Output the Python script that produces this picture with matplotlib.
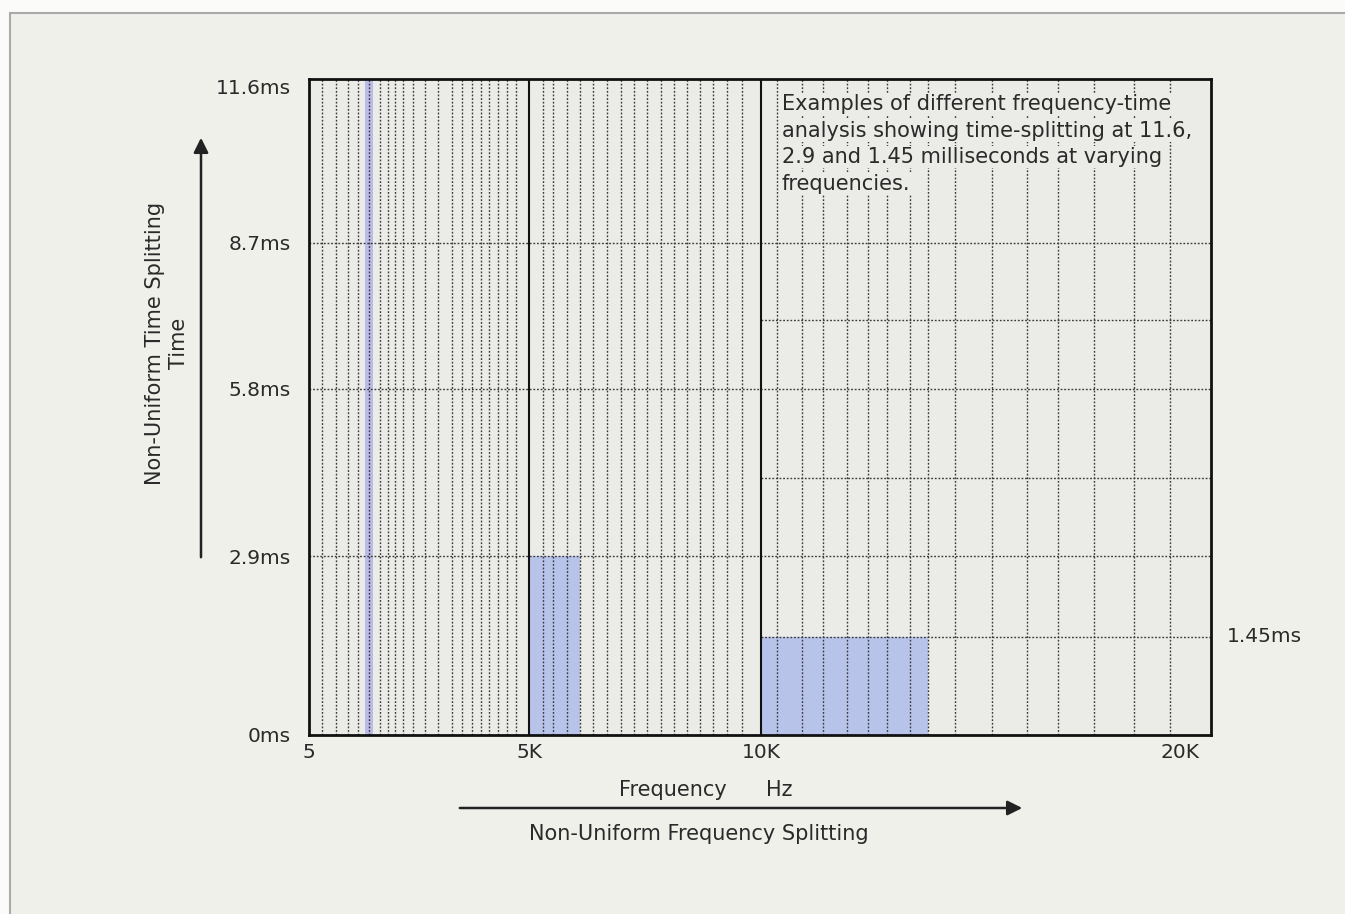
import numpy as np
import matplotlib
matplotlib.use('Agg')
import matplotlib.pyplot as plt
from matplotlib.patches import Rectangle, FancyArrowPatch

# ---------------- data ----------------
freq_tick_values = [5, 5000, 10000, 20000]
freq_tick_labels = ['5', '5K', '10K', '20K']
time_tick_values = [0, 2.9, 5.8, 8.7, 11.6]
time_tick_labels = ['0ms', '2.9ms', '5.8ms', '8.7ms', '11.6ms']
freq_min = 5
freq_max = 20740
time_max = 11.6

# frequency split lines (Hz)
low_band_splits = [300, 620, 890, 1120, 1370, 1620, 1800, 1960, 2140, 2370,
                   2640, 2930, 3250, 3480, 3710, 3910, 4090, 4300, 4500, 4700]
mid_band_splits = [5300, 5520, 5820, 6100, 6380, 6680, 6980, 7260, 7540,
                   7850, 8130, 8400, 8690, 8970, 9270, 9590]
high_band_splits = [10380, 10980, 11480, 12050, 12550, 13010, 13560, 13990,
                    14630, 15510, 16350, 17090, 17950, 18900, 19760]
band_edges = [5000, 10000]

# time split lines (ms)
full_width_time_splits = [2.9, 5.8, 8.7]
high_band_time_splits = [1.45, 4.35, 7.25]
right_label_time = 1.45

# highlighted cells
cell_freq_start = [1280, 5000, 10000]
cell_freq_end = [1460, 6100, 13990]
cell_time = [11.6, 2.9, 1.45]
cell_colors = ['#bbbbe9', '#b8c3e9', '#b8c3e9']

# non-uniform drawing scale knots
freq_knots = [5, 5000, 10000, 20740]
freq_pos = [0, 220, 452, 902]
time_knots = [0, 1.45, 2.9, 4.35, 5.8, 7.25, 8.7, 11.6]
time_pos = [0, 98, 179, 257, 346, 415, 492, 656]

note_lines = ["Examples of different frequency-time",
              "analysis showing time-splitting at 11.6,",
              "2.9 and 1.45 milliseconds at varying",
              "frequencies."]

# ---------------- figure ----------------
W, H = 1345, 914
plt.rcParams['font.family'] = ['DejaVu Sans']
fig = plt.figure(figsize=(W / 100, H / 100), dpi=100, facecolor='#fbfbfa')

# page panel
fig.add_artist(Rectangle((10 / W, -0.01), 1.0, (H - 13) / H + 0.01,
                         transform=fig.transFigure, facecolor='#f0f0eb',
                         edgecolor='#a9a9a9', lw=1.5, zorder=0))

TXT = '#2a2a2a'
AX_BG = '#ebebe8'

ax = fig.add_axes([309 / W, (H - 735) / H, 902 / W, 656 / H])
ax.set_facecolor(AX_BG)


def fx(v):
    return np.interp(np.asarray(v, dtype=float), freq_knots, freq_pos)


def fx_inv(p):
    return np.interp(np.asarray(p, dtype=float), freq_pos, freq_knots)


def fy(v):
    return np.interp(np.asarray(v, dtype=float), time_knots, time_pos)


def fy_inv(p):
    return np.interp(np.asarray(p, dtype=float), time_pos, time_knots)


ax.set_xscale('function', functions=(fx, fx_inv))
ax.set_yscale('function', functions=(fy, fy_inv))
ax.set_xlim(freq_min, freq_max)
ax.set_ylim(0, time_max)

# highlighted cells
for fs, fe, t, c in zip(cell_freq_start, cell_freq_end, cell_time, cell_colors):
    ax.bar(fs, t, width=fe - fs, align='edge', color=c, edgecolor='none', zorder=1)

dot = (0, (1.3, 1.3))
ax.vlines(low_band_splits + mid_band_splits + high_band_splits, 0, time_max,
          colors='#3a3a3a', linestyles=dot, lw=1.0, zorder=2)
ax.hlines(full_width_time_splits, freq_min, freq_max,
          colors='#3a3a3a', linestyles=dot, lw=1.0, zorder=2)
ax.hlines(high_band_time_splits, band_edges[1], freq_max,
          colors='#3a3a3a', linestyles=dot, lw=1.0, zorder=2)
ax.vlines(band_edges, 0, time_max, colors='#111111', lw=1.5, zorder=3)

for s in ax.spines.values():
    s.set_linewidth(2.0)
    s.set_color('#111111')
    s.set_zorder(4)

ax.set_xticks(freq_tick_values)
ax.set_xticklabels(freq_tick_labels)
ax.set_yticks(time_tick_values)
ax.set_yticklabels(time_tick_labels)
ax.minorticks_off()
ax.tick_params(axis='x', length=0, pad=6, labelsize=14.5, labelcolor=TXT)
ax.tick_params(axis='y', length=0, pad=13, labelsize=14.5, labelcolor=TXT)
# the top label sits just under the frame line in the original
ax.yaxis.get_major_ticks()[-1].label1.set_verticalalignment('top')

ax.annotate('1.45ms', xy=(1, right_label_time), xycoords=('axes fraction', 'data'),
            xytext=(16, 0), textcoords='offset pixels', ha='left', va='center',
            fontsize=14.5, color=TXT)

# note text
for i, line in enumerate(note_lines):
    yc = 104 + i * 26.5
    fig.text(782 / W, 1 - yc / H, line, ha='left', va='center', fontsize=15,
             color=TXT, zorder=5,
             bbox=dict(facecolor=AX_BG, edgecolor='none', pad=1.0))

# axis captions
fig.text(167 / W, 1 - 343 / H, "Non-Uniform Time Splitting\nTime", rotation=90,
         ha='center', va='center', multialignment='center', fontsize=15, color=TXT)
fig.text(673 / W, 1 - 790 / H, "Frequency", ha='center', va='center',
         fontsize=15, color=TXT)
fig.text(779 / W, 1 - 790 / H, "Hz", ha='center', va='center',
         fontsize=15, color=TXT)
fig.text(699 / W, 1 - 834 / H, "Non-Uniform Frequency Splitting", ha='center',
         va='center', fontsize=15, color=TXT)

# arrows
fig.add_artist(FancyArrowPatch((201 / W, 1 - 560 / H), (201 / W, 1 - 135 / H),
                               transform=fig.transFigure, arrowstyle='-|>',
                               mutation_scale=22, lw=1.8, color='#222222'))
fig.add_artist(FancyArrowPatch((457 / W, 1 - 808 / H), (1025 / W, 1 - 808 / H),
                               transform=fig.transFigure, arrowstyle='-|>',
                               mutation_scale=22, lw=1.8, color='#222222'))

fig.savefig('out.png', dpi=100, facecolor=fig.get_facecolor())
